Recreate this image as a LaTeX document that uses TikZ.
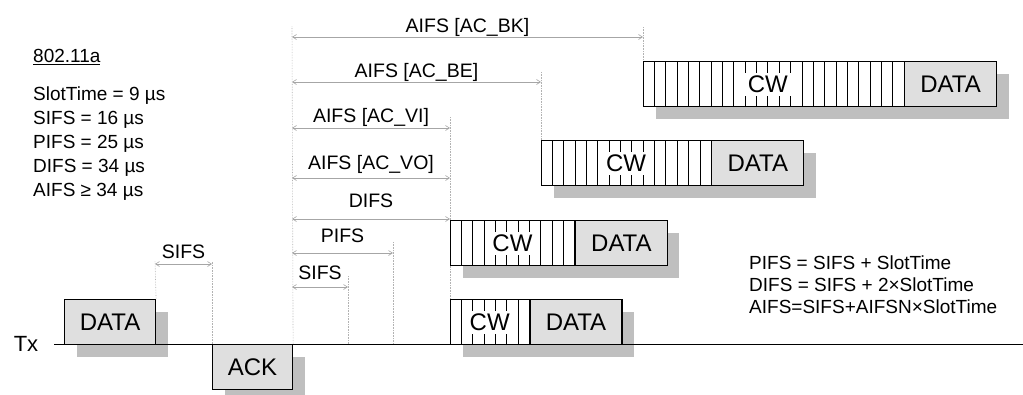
\documentclass[tikz,border=0pt]{standalone}
\usepackage{fontspec}
\setmainfont{Liberation Sans}
\usetikzlibrary{arrows.meta,shadows,backgrounds}

\def\slotw{11.35pt}

\begin{document}
\begin{tikzpicture}[
    x=1pt, y=-1pt,
    lbl/.style={font=\fontsize{19.5}{22}\selectfont, text=black, inner sep=0pt,
        midway, anchor=base},
    txtblock/.style={font=\fontsize{19}{24}\selectfont, align=left,
        anchor=north west, inner sep=0pt},
    box/.style={draw, line width=1.1pt, fill=gray!25, minimum height=45pt,
        inner sep=0pt, font=\fontsize{24}{24}\selectfont},
    shbox/.style={box, anchor=north west,
        drop shadow={shadow xshift=12pt, shadow yshift=-12pt, opacity=1, fill=black!25}},
    frame/.style={shbox, fill=white},
    cwlbl/.style={fill=white, inner xsep=4pt, inner ysep=3pt,
        font=\fontsize{24}{24}\selectfont},
    slot/.style={line width=0.8pt},
    guide/.style={densely dotted, gray!60, line width=0.6pt},
    dim/.style={{Straight Barb[length=4pt,width=5pt]}-{Straight Barb[length=4pt,width=5pt]},
        gray!70, line width=0.6pt},
    axis/.style={line width=1pt}
]
\useasboundingbox (0,0) rectangle (1023,394);

% parameters
\node[txtblock] (std) at (33,49)
    {\underline{802.11a}\\[14pt]SlotTime = 9 µs\\SIFS = 16 µs\\PIFS = 25 µs\\DIFS = 34 µs\\AIFS ≥ 34 µs};
\node[txtblock, font=\fontsize{19}{22}\selectfont] (rules) at (749,256)
    {PIFS = SIFS + SlotTime\\DIFS = SIFS + 2×SlotTime\\AIFS=SIFS+AIFSN×SlotTime};

% frames
\node[shbox, minimum width=91pt] (data1) at (64,299) {DATA};
\node[shbox, minimum width=80pt] (ack) at (212,344) {ACK};

\foreach \nm/\x/\y/\n/\c in {vo/450/299/7/3.5, vi/450/220/11/5.5, be/541/140/15/7.5, bk/643/61/23/11}{
  \node[frame, minimum width=\n*\slotw+92pt] (\nm) at (\x,\y) {};
  \node[box, anchor=north east, minimum width=92pt] (\nm d) at (\nm.north east) {DATA};
  \foreach \i in {1,...,\n}
    \draw[slot] ([xshift=\i*\slotw]\nm.north west) -- ([xshift=\i*\slotw]\nm.south west);
  \node[cwlbl] (\nm c) at ([xshift=\c*\slotw]\nm.west) {CW};
}

% interframe spaces
\coordinate (sA) at (155,264);  \coordinate (sB) at (212,264);
\coordinate (bk0) at (292,37);  \coordinate (bk1) at (643,37);
\coordinate (be0) at (292,82);  \coordinate (be1) at (541,82);
\coordinate (vi0) at (292,128); \coordinate (vi1) at (450,128);
\coordinate (vo0) at (292,178); \coordinate (vo1) at (450,178);
\coordinate (di0) at (292,219); \coordinate (di1) at (450,219);
\coordinate (pi0) at (292,253); \coordinate (pi1) at (393,253);
\coordinate (si0) at (292,287); \coordinate (si1) at (348,287);

\begin{scope}[on background layer]
\draw[guide] (data1.north east) -- ([yshift=3pt]sA);
\draw[guide] (ack.north west) -- ([yshift=3pt]sB);
\draw[guide] (ack.north east) -- ([yshift=11pt]bk0);
\draw[guide] ([yshift=11pt]si1) -- (si1 |- ack.north);
\draw[guide] ([yshift=11pt]pi1) -- (pi1 |- ack.north);
\draw[guide] ([yshift=11pt]vi1) -- (vo.north west);
\draw[guide] ([yshift=10pt]be1) -- (be.north west);
\draw[guide] ([yshift=10pt]bk1) -- (bk.north west);
\end{scope}

\draw[dim] (sA) -- node[lbl, yshift=6pt] {SIFS} (sB);
\draw[dim] (bk0) -- node[lbl, yshift=5pt] {AIFS [AC\_BK]} (bk1);
\draw[dim] (be0) -- node[lbl, yshift=5pt] {AIFS [AC\_BE]} (be1);
\draw[dim] (vi0) -- node[lbl, yshift=6pt] {AIFS [AC\_VI]} (vi1);
\draw[dim] (vo0) -- node[lbl, yshift=9pt] {AIFS [AC\_VO]} (vo1);
\draw[dim] (di0) -- node[lbl, yshift=12pt] {DIFS} (di1);
\draw[dim] (pi0) -- node[lbl, yshift=11pt] {PIFS} (pi1);
\draw[dim] (si0) -- node[lbl, yshift=8pt] {SIFS} (si1);

% time axis
\node[font=\fontsize{22}{22}\selectfont, inner sep=0pt] (tx) at (26,344) {Tx};
\coordinate (tend) at (1023,344);
\draw[axis] ([xshift=16pt]tx.east) -- (tend);
\end{tikzpicture}
\end{document}
